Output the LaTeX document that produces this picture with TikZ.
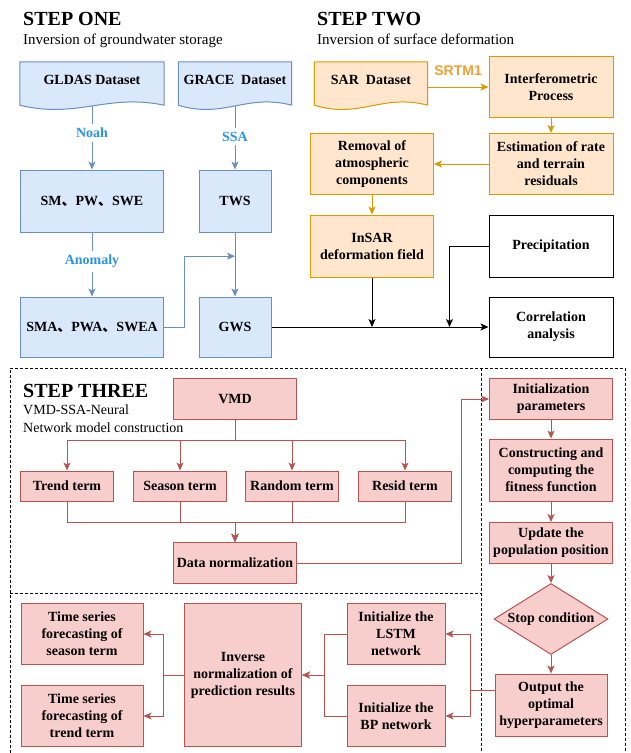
\documentclass[tikz,border=0pt]{standalone}
\usepackage{fontspec}
\setmainfont{Liberation Serif}
\newfontfamily\cjkfont{Noto Sans CJK SC}
\newfontfamily\labelsans{Liberation Sans}
\usetikzlibrary{arrows.meta,shapes.geometric,calc,backgrounds}
\definecolor{bluefill}{HTML}{DAE8FC}
\definecolor{blueline}{HTML}{6C8EBF}
\definecolor{bluetext}{HTML}{2A93E6}
\definecolor{orangefill}{HTML}{FFE6CC}
\definecolor{orangeline}{HTML}{D79B00}
\definecolor{orangetext}{HTML}{F0A030}
\definecolor{redfill}{HTML}{F8CECC}
\definecolor{redline}{HTML}{B85450}
\newcommand\dun{{\cjkfont 、}}

\begin{document}
\begin{tikzpicture}[
    x=1pt, y=-1pt,
    >={Stealth[length=8pt,width=7pt,inset=2pt]},
    every node/.style={font=\fontsize{14}{17}\selectfont\bfseries, align=center, inner sep=2pt},
    boxsize/.style 2 args={minimum width=#1pt, minimum height=#2pt},
    steptitle/.style={anchor=base west, inner sep=0pt, font=\fontsize{20}{24}\selectfont\bfseries},
    stepnote/.style={anchor=base west, inner sep=0pt, font=\fontsize{15}{18}\selectfont},
    bluebox/.style={rectangle, draw=blueline, fill=bluefill, line width=1pt},
    orangebox/.style={rectangle, draw=orangeline, fill=orangefill, line width=1pt},
    redbox/.style={rectangle, draw=redline, fill=redfill, line width=1pt},
    plainbox/.style={rectangle, draw=black, fill=white, line width=1pt},
    docnode/.style={rectangle, inner sep=0pt},
    bluearrow/.style={->, draw=blueline, line width=1pt},
    orangearrow/.style={->, draw=orangeline, line width=1pt},
    redarrow/.style={->, draw=redline, line width=1pt},
    blackarrow/.style={->, draw=black, line width=1pt},
    bluelabel/.style={text=bluetext, fill=white, inner sep=4pt},
    srtmlabel/.style={text=orangetext, inner sep=2pt, font=\fontsize{14}{17}\labelsans\bfseries},
    frame/.style={draw=black, line width=0.8pt, dash pattern=on 3pt off 2pt}
]
\useasboundingbox (0,0) rectangle (630,753);

% Step one: groundwater storage
\node[steptitle] (title1) at (23,25) {STEP ONE};
\node[stepnote] (note1) at (23,44) {Inversion of groundwater storage};
\node[docnode, boxsize={144}{36}] (gldas) at (92,80) {GLDAS Dataset};
\node[docnode, boxsize={113}{36}] (grace) at (235,80) {GRACE~~Dataset};
\node[bluebox, boxsize={143}{62}] (sm) at (92,201) {SM\dun PW\dun SWE};
\node[bluebox, boxsize={72}{62}] (tws) at (235,201) {TWS};
\node[bluebox, boxsize={143}{60}] (sma) at (92,327) {SMA\dun PWA\dun SWEA};
\node[bluebox, boxsize={72}{60}] (gws) at (235,327) {GWS};

% Step two: surface deformation
\node[steptitle] (title2) at (317,25) {STEP TWO};
\node[stepnote] (note2) at (317,44) {Inversion of surface deformation};
\node[docnode, boxsize={113}{36}] (sar) at (371,80) {SAR~~Dataset};
\node[orangebox, boxsize={124}{61}] (interf) at (551,87) {Interferometric\\Process};
\node[orangebox, boxsize={124}{61}] (estim) at (551,164) {Estimation of rate\\and terrain\\residuals};
\node[orangebox, boxsize={123}{61}] (removal) at (372,164) {Removal of\\atmospheric\\components};
\node[orangebox, boxsize={123}{62}] (insar) at (372,246) {InSAR\\deformation field};
\node[plainbox, boxsize={124}{62}] (precip) at (551,246) {Precipitation};
\node[plainbox, boxsize={124}{60}] (corr) at (551,327) {Correlation\\analysis};

% document shapes
\begin{pgfonlayer}{background}
\foreach \n/\s in {gldas/bluebox, grace/bluebox, sar/orangebox}
    \path[\s] (\n.north west) -- (\n.north east) -- ($(\n.south east)+(0,7)$)
        .. controls ($(\n.south west)!0.6!(\n.south east)+(0,-5)$)
        and ($(\n.south west)!0.4!(\n.south east)+(0,21)$) .. ($(\n.south west)+(0,7)$) -- cycle;
\end{pgfonlayer}

\draw[bluearrow] ($(gldas.south)+(0,8)$) -- node[bluelabel, pos=0.42] {Noah} (sm.north);
\draw[bluearrow] ($(grace.south)+(0,8)$) -- node[bluelabel, pos=0.48] {SSA} (tws.north);
\draw[bluearrow] (sm.south) -- node[bluelabel, pos=0.45] {Anomaly} (sma.north);
\draw[bluearrow] (tws.south) -- (gws.north);
\draw[bluearrow] (sma.east) -- ++(20,0) |- ($(tws.south)!0.37!(gws.north)$);

\draw[orangearrow] (sar.east |- interf.west) -- node[srtmlabel, above=9pt] {SRTM1} (interf.west);
\draw[orangearrow] (interf.south) -- (estim.north);
\draw[orangearrow] (estim.west) -- (removal.east);
\draw[orangearrow] (removal.south) -- (insar.north);

\draw[blackarrow] (gws.east) -- (corr.west);
\draw[blackarrow] (insar.south) -- (insar.south |- corr.west);
\draw[blackarrow] (precip.west) -| ($(precip.west |- corr.west)+(-39,0)$);

% Step three: VMD-SSA-Neural network
\draw[frame] (10,753) -- (10,368) -- (625,368) -- (625,753);
\draw[frame] (481,368) -- (481,753);
\draw[frame] (10,593) -- (481,593);
\node[steptitle] (title3) at (23,397) {STEP THREE};
\node[stepnote, font=\fontsize{14}{17}\selectfont] (note3a) at (23,414) {VMD-SSA-Neural};
\node[stepnote, font=\fontsize{14}{17}\selectfont] (note3b) at (23,432) {Network model construction};

\node[redbox, boxsize={123}{41}] (vmd) at (235,399) {VMD};
\node[redbox, boxsize={93}{30}] (trend) at (67,486) {Trend term};
\node[redbox, boxsize={93}{30}] (season) at (180,486) {Season term};
\node[redbox, boxsize={93}{30}] (random) at (292,486) {Random term};
\node[redbox, boxsize={93}{30}] (resid) at (405,486) {Resid term};
\node[redbox, boxsize={123}{41}] (norm) at (235,563) {Data normalization};

\foreach \t in {trend, season, random, resid} {
    \draw[redarrow] (vmd.south) -- ++(0,20) -| (\t.north);
    \draw[redarrow] (\t.south) -- ++(0,21) -| (norm.north);
}

% sparrow search column
\node[redbox, boxsize={123}{41}] (init) at (551,399) {Initialization\\parameters};
\node[redbox, boxsize={123}{62}] (fitness) at (551,470) {Constructing and\\computing the\\fitness function};
\node[redbox, boxsize={123}{41}] (update) at (551,543) {Update the\\population position};
\node[redbox, diamond, aspect=1.6, minimum width=114pt, minimum height=71pt, inner sep=0pt] (stop) at (551,619) {Stop condition};
\node[redbox, boxsize={112}{62}] (output) at (551,705) {Output the\\optimal\\hyperparameters};

\draw[redarrow] (norm.east) -- ++(164,0) |- (init.west);
\draw[redarrow] (init.south) -- (fitness.north);
\draw[redarrow] (fitness.south) -- (update.north);
\draw[redarrow] (update.south) -- (stop.north);
\draw[redarrow] (stop.south) -- (output.north);

% forecasting
\node[redbox, boxsize={122}{61}] (tsseason) at (82,634) {Time series\\forecasting of\\season term};
\node[redbox, boxsize={122}{61}] (tstrend) at (82,716) {Time series\\forecasting of\\trend term};
\node[redbox, boxsize={117}{143}] (inverse) at (243,675) {Inverse\\normalization of\\prediction results};
\node[redbox, boxsize={98}{61}] (lstm) at (396,634) {Initialize the\\LSTM\\network};
\node[redbox, boxsize={98}{61}] (bp) at (396,716) {Initialize the\\BP network};

\draw[redarrow] ([yshift=15pt]output.west) -- ++(-24,0) |- (lstm.east);
\draw[redarrow] ([yshift=15pt]output.west) -- ++(-24,0) |- (bp.east);
\draw[redarrow] (lstm.west) -- ++(-22,0) |- (inverse.east);
\draw[redarrow] (bp.west) -- ++(-22,0) |- (inverse.east);
\draw[redarrow] (inverse.west) -- ++(-21,0) |- (tsseason.east);
\draw[redarrow] (inverse.west) -- ++(-21,0) |- (tstrend.east);
\end{tikzpicture}
\end{document}
